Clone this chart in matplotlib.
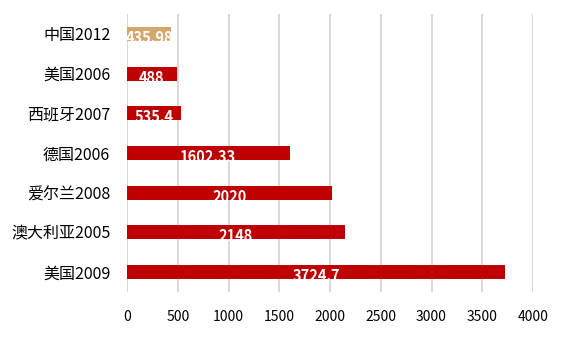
import matplotlib
matplotlib.use("Agg")
import matplotlib.pyplot as plt

plt.rcParams['font.family'] = ['Noto Sans CJK SC', 'DejaVu Sans']

categories = ["中国2012", "美国2006", "西班牙2007", "德国2006", "爱尔兰2008", "澳大利亚2005", "美国2009"]
values = [435.98, 488, 535.4, 1602.33, 2020, 2148, 3724.7]
labels = ["435.98", "488", "535.4", "1602.33", "2020", "2148", "3724.7"]
colors = ["#D4A86A"] + ["#C00000"] * 6
xticks = [0, 500, 1000, 1500, 2000, 2500, 3000, 3500, 4000]

fig = plt.figure(figsize=(5.61, 3.37), dpi=100)
ax = fig.add_axes([127/561, 1 - 292/337, (533-127)/561, (292-14)/337])

ypos = list(range(len(categories)))
ax.barh(ypos, values, height=0.35, color=colors, zorder=3)
for y, v, t in zip(ypos, values, labels):
    ax.text(v / 2, y + 0.1, t, ha='center', va='center', color='white',
            fontsize=10.5, fontweight='bold', zorder=4)

ax.set_xlim(0, 4000)
ax.set_ylim(len(categories) - 0.5, -0.5)
ax.set_xticks(xticks)
ax.set_xticklabels([str(x) for x in xticks])
ax.set_yticks(ypos)
ax.set_yticklabels(categories)
ax.tick_params(axis='both', length=0, colors='black')
ax.tick_params(axis='x', pad=13, labelsize=10)
ax.tick_params(axis='y', pad=12, labelsize=11.5)
ax.grid(axis='x', color='#D9D9D9', linewidth=1.5, zorder=0)
for s in ax.spines.values():
    s.set_visible(False)

fig.savefig("out.png", dpi=100)
